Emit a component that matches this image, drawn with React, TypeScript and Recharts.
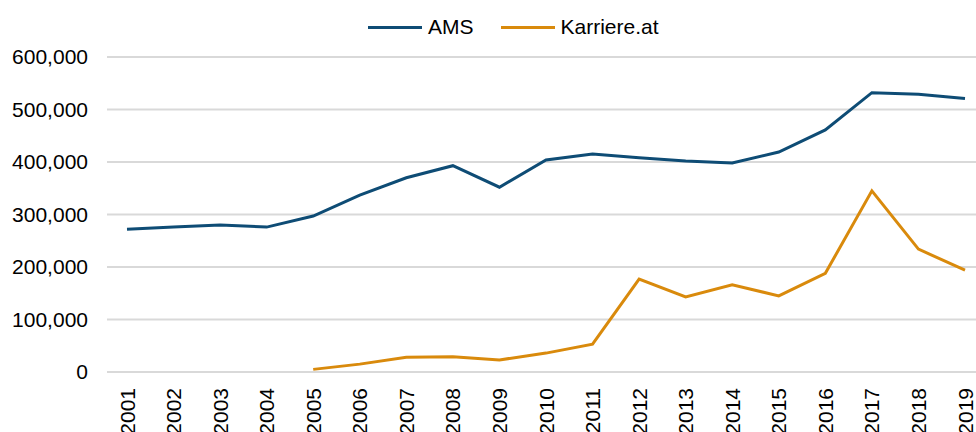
import { CartesianGrid, Legend, Line, LineChart, XAxis, YAxis } from 'recharts'

const YEARS = [
  '2001', '2002', '2003', '2004', '2005', '2006', '2007', '2008', '2009', '2010',
  '2011', '2012', '2013', '2014', '2015', '2016', '2017', '2018', '2019',
]

const AMS = [
  272000, 276000, 280000, 276000, 297000, 337000, 370000, 393000, 352000, 404000,
  415000, 408000, 402000, 398000, 419000, 461000, 532000, 529000, 521000,
]

const KARRIERE = [
  null, null, null, null, 5000, 15000, 28000, 29000, 23000, 36000,
  53000, 177000, 143000, 166000, 145000, 188000, 345000, 234000, 194000,
]

const Y_TICKS = [0, 100000, 200000, 300000, 400000, 500000, 600000]

const SERIES = [
  { key: 'AMS', color: '#0E4C75' },
  { key: 'Karriere.at', color: '#D98A0C' },
]

const data = YEARS.map((year, i) => ({
  year,
  AMS: AMS[i],
  'Karriere.at': KARRIERE[i],
}))

const FONT = '"Liberation Sans", Arial, sans-serif'

function YearTick({ x, y, payload }: any) {
  return (
    <g transform={`translate(${x},${y})`}>
      <text
        transform="rotate(-90)"
        textAnchor="end"
        dominantBaseline="central"
        fontSize={21}
        fontFamily={FONT}
        fill="#000"
      >
        {payload.value}
      </text>
    </g>
  )
}

function LegendContent() {
  return (
    <div style={{ display: 'flex', alignItems: 'center', height: 30, fontFamily: FONT, fontSize: 21, color: '#000' }}>
      {SERIES.map((s, i) => (
        <div key={s.key} style={{ display: 'flex', alignItems: 'center', marginRight: i === 0 ? 27 : 0 }}>
          <div style={{ width: 54, height: 3, background: s.color, marginRight: 6 }} />
          <span>{s.key}</span>
        </div>
      ))}
    </div>
  )
}

export default function App() {
  return (
    <div style={{ position: 'absolute', left: 0, top: 0, width: 976, height: 432, background: '#fff' }}>
      <LineChart width={976} height={432} data={data} margin={{ top: 27, right: 0, bottom: 0, left: 0 }}>
        <CartesianGrid vertical={false} stroke="#d9d9d9" strokeWidth={2} />
        <XAxis
          dataKey="year"
          axisLine={false}
          tickLine={false}
          tickSize={0}
          tickMargin={16}
          height={60}
          interval={0}
          padding={{ left: 20, right: 11 }}
          tick={<YearTick />}
        />
        <YAxis
          width={107}
          domain={[0, 600000]}
          ticks={Y_TICKS}
          axisLine={false}
          tickLine={false}
          tickSize={0}
          tickMargin={19}
          tick={{ fontSize: 21, fontFamily: FONT, fill: '#000' }}
          tickFormatter={(v: number) => v.toLocaleString('en-US')}
        />
        <Legend
          verticalAlign="top"
          content={<LegendContent />}
          wrapperStyle={{ left: 368, top: 12, width: 'auto' }}
        />
        {SERIES.map((s) => (
          <Line
            key={s.key}
            type="linear"
            dataKey={s.key}
            stroke={s.color}
            strokeWidth={3}
            dot={false}
            isAnimationActive={false}
          />
        ))}
      </LineChart>
    </div>
  )
}
